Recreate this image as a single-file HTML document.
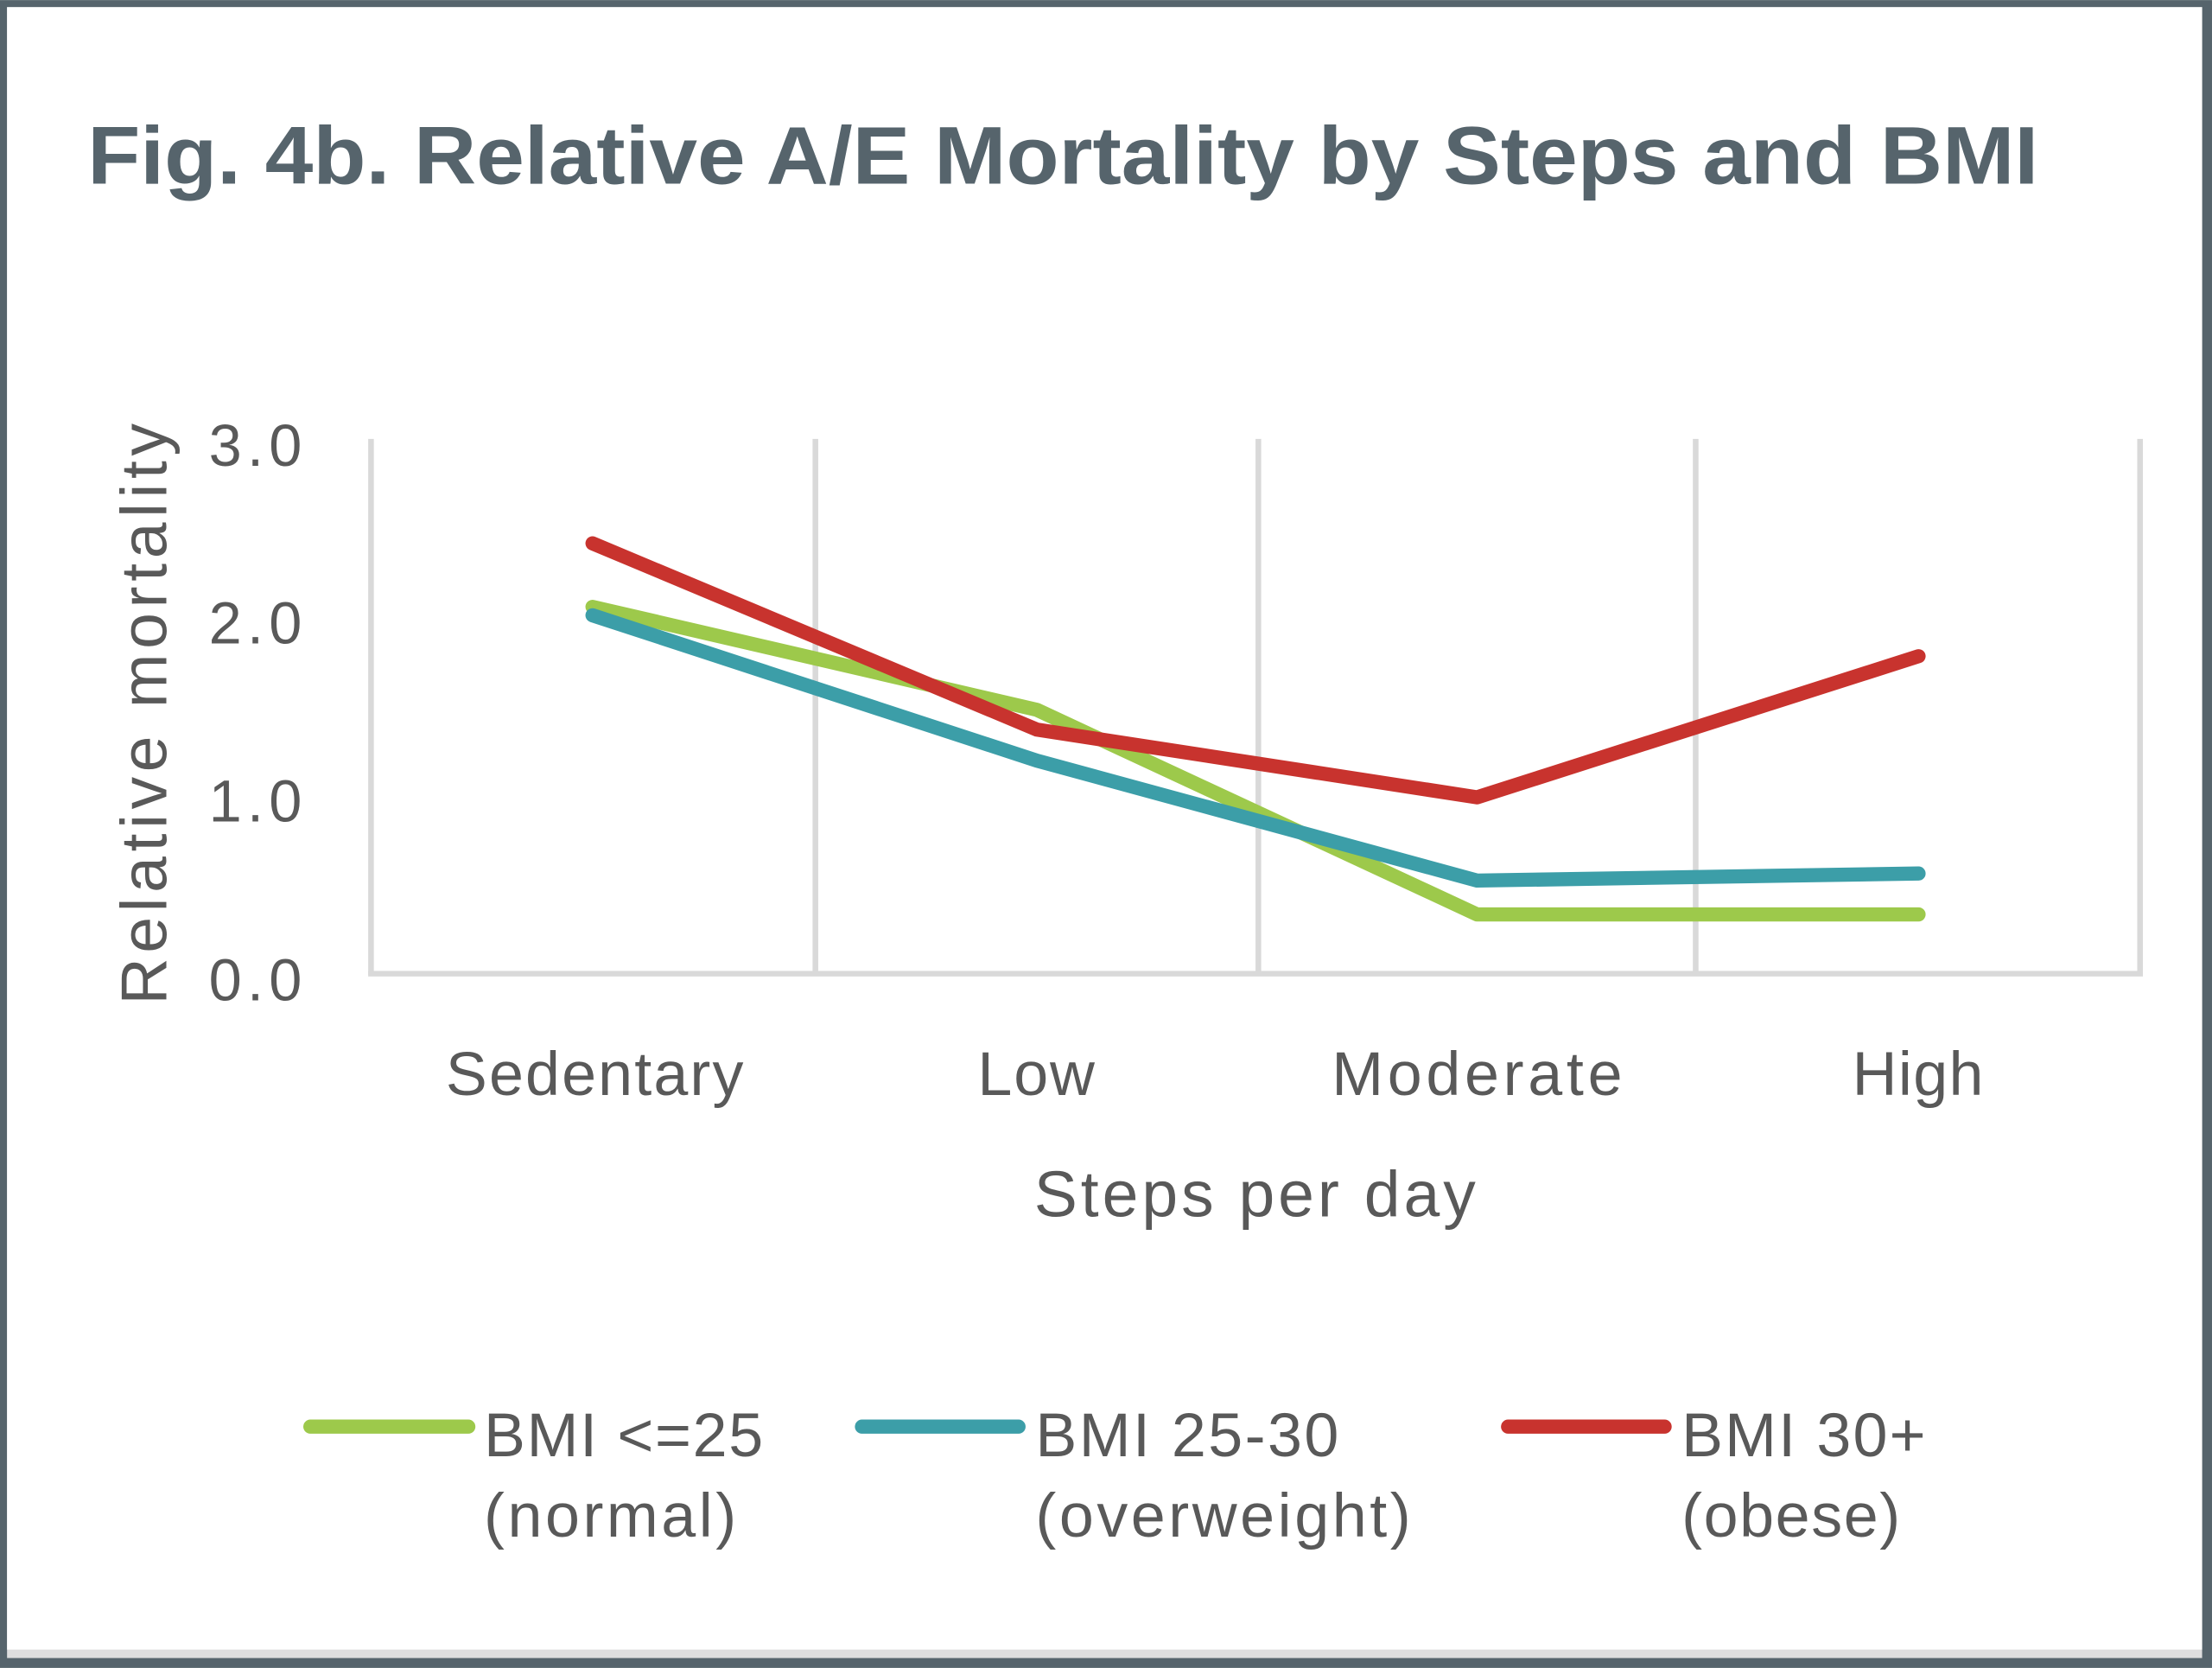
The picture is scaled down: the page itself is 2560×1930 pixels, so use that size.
<!DOCTYPE html>
<html><head><style>html,body{margin:0;padding:0;background:#fff}svg{display:block}</style></head>
<body>
<svg width="2560" height="1930" viewBox="0 0 1568 1182" xmlns="http://www.w3.org/2000/svg" font-family="Liberation Sans, sans-serif">
<rect x="0" y="0" width="1568" height="1182" fill="#56646c"/>
<rect x="5" y="5" width="1556" height="1170" fill="#dedede"/>
<rect x="5" y="5" width="1556" height="1164" fill="#fff"/>
<text x="62" y="130" font-size="58" font-weight="bold" fill="#56646c" textLength="1383" lengthAdjust="spacingAndGlyphs">Fig. 4b. Relative A/E Mortality by Steps and BMI</text>
<g stroke="#d9d9d9" stroke-width="4">
<line x1="263" y1="311" x2="263" y2="691"/>
<line x1="578" y1="311" x2="578" y2="691"/>
<line x1="892" y1="311" x2="892" y2="691"/>
<line x1="1202" y1="311" x2="1202" y2="691"/>
<line x1="1517" y1="311" x2="1517" y2="691"/>
<line x1="261" y1="690" x2="1519" y2="690"/>
</g>
<g font-size="42" fill="#595959" lengthAdjust="spacingAndGlyphs">
<text x="148" y="330" textLength="66">3.0</text>
<text x="148" y="456" textLength="66">2.0</text>
<text x="148" y="582" textLength="66">1.0</text>
<text x="148" y="709" textLength="66">0.0</text>
</g>
<g font-size="44" fill="#595959" lengthAdjust="spacingAndGlyphs">
<text x="316" y="776" textLength="211">Sedentary</text>
<text x="693" y="776" textLength="83">Low</text>
<text x="944" y="776" textLength="206">Moderate</text>
<text x="1313" y="776" textLength="93">High</text>
<text x="733" y="862" font-size="46" textLength="313">Steps per day</text>
<text transform="translate(118,712) rotate(-90)" font-size="46" textLength="412">Relative mortality</text>
</g>
<g fill="none" stroke-width="10" stroke-linejoin="round" stroke-linecap="round">
<polyline stroke="#9dc94b" points="420,430 735,503 1047,648 1360,648"/>
<polyline stroke="#3c9ea8" points="420,436 735,539 1047,624 1360,619"/>
<polyline stroke="#c8332e" points="420,385 735,517 1047,565 1360,465"/>
</g>
<g stroke-width="10" stroke-linecap="round">
<line x1="220" y1="1011" x2="332" y2="1011" stroke="#9dc94b"/>
<line x1="611" y1="1011" x2="722" y2="1011" stroke="#3c9ea8"/>
<line x1="1069" y1="1011" x2="1180" y2="1011" stroke="#c8332e"/>
</g>
<g font-size="44" fill="#595959" lengthAdjust="spacingAndGlyphs">
<text x="343" y="1032" textLength="198">BMI &lt;=25</text>
<text x="343" y="1089" textLength="179">(normal)</text>
<text x="734" y="1032" textLength="215">BMI 25-30</text>
<text x="734" y="1089" textLength="266">(overweight)</text>
<text x="1192" y="1032" textLength="173">BMI 30+</text>
<text x="1192" y="1089" textLength="155">(obese)</text>
</g>
</svg>
</body></html>
